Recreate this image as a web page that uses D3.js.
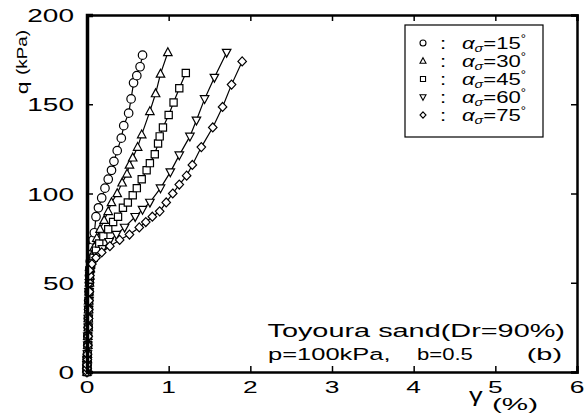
<!DOCTYPE html>
<html>
<head>
<meta charset="utf-8">
<script src="https://cdn.jsdelivr.net/npm/d3@7"></script>
<style>
  body { margin: 0; background: #fff; }
  svg { display: block; }
  text { font-family: "Liberation Sans", Arial, sans-serif; fill: #000; }
</style>
</head>
<body>
<svg id="chart"></svg>
<script>
// shear strain gamma (%) and deviator stress q (kPa)
const lowQ = [0, 2, 4, 7, 10, 15, 20, 25, 30, 35, 40, 45, 50, 54];

const g15 = [0, 0, 0, 0, 0.005, 0.01, 0.01, 0.015, 0.015, 0.02, 0.02, 0.025, 0.03, 0.03,
  0.035, 0.04, 0.05, 0.06, 0.075, 0.09, 0.11, 0.14, 0.18, 0.22, 0.26, 0.30, 0.33, 0.37, 0.42, 0.45, 0.51, 0.54, 0.57, 0.61, 0.65, 0.68];
const q15 = [...lowQ,
  58, 62, 66, 70, 74, 78, 87, 92, 97.5, 103, 108, 113, 118, 124, 131, 138, 145, 153, 162, 166, 171, 177.5];

const g30 = [0, 0, 0, 0.005, 0.005, 0.01, 0.01, 0.015, 0.015, 0.02, 0.02, 0.025, 0.03, 0.035,
  0.04, 0.05, 0.07, 0.09, 0.12, 0.16, 0.21, 0.26, 0.30, 0.37, 0.43, 0.49, 0.52, 0.56, 0.62, 0.67, 0.77, 0.84, 0.90, 0.99];
const q30 = [...lowQ,
  58, 62, 66, 70, 75, 80, 85, 90, 95, 100, 106, 111, 116, 120, 126, 133, 146, 156, 167, 179];

const g45 = [0, 0, 0, 0.005, 0.005, 0.01, 0.01, 0.015, 0.02, 0.02, 0.025, 0.025, 0.03, 0.035,
  0.05, 0.08, 0.11, 0.15, 0.20, 0.26, 0.32, 0.38, 0.44, 0.50, 0.56, 0.61, 0.67, 0.73, 0.77, 0.83, 0.87, 0.89, 0.93, 1.00, 1.06, 1.13, 1.21];
const q45 = [...lowQ,
  60, 64, 68, 72, 76, 80, 84, 87, 92, 95, 99, 103, 108, 113, 117, 122, 128, 132, 137, 144, 151, 159, 167.5];

const g60 = [0, 0, 0, 0, 0.005, 0.01, 0.01, 0.015, 0.015, 0.02, 0.025, 0.025, 0.03, 0.035,
  0.04, 0.07, 0.12, 0.19, 0.27, 0.36, 0.46, 0.59, 0.68, 0.77, 0.90, 1.02, 1.13, 1.26, 1.34, 1.44, 1.56, 1.71];
const q60 = [...lowQ,
  57, 61, 65, 69, 73, 77, 81, 87, 91, 95, 103, 112, 121.5, 132, 141, 153, 165, 179];

const g75 = [0, 0, 0, 0.005, 0.005, 0.01, 0.015, 0.015, 0.02, 0.02, 0.025, 0.03, 0.03, 0.035,
  0.03, 0.06, 0.11, 0.18, 0.28, 0.40, 0.52, 0.64, 0.72, 0.80, 0.89, 0.97, 1.05, 1.13, 1.22, 1.29, 1.40, 1.54, 1.66, 1.77, 1.90];
const q75 = [...lowQ,
  57, 60.5, 64, 67, 70.5, 74, 77, 81, 84, 87, 90, 95, 100, 105, 110, 116, 126, 137, 148.5, 161, 174];

const seriesNames = ["15", "30", "45", "60", "75"];
const seriesSymbols = ["circle", "triangle", "square", "triangleDown", "diamond"];
const xTicks = [0, 1, 2, 3, 4, 5, 6];
const yTicks = [0, 50, 100, 150, 200];

const width = 586, height = 416;
const margin = {top: 15, right: 9, bottom: 44, left: 87};
const stretch = 1.55; // the scanned figure's lettering is wide

const svg = d3.select("#chart").attr("width", width).attr("height", height);

const x = d3.scaleLinear().domain([0, 6]).range([margin.left, width - margin.right]);
const y = d3.scaleLinear().domain([0, 200]).range([height - margin.bottom, margin.top]);

const gammas = [g15, g30, g45, g60, g75];
const qs = [q15, q30, q45, q60, q75];
const data = seriesNames.map((name, i) => ({
  name: name,
  symbol: seriesSymbols[i],
  points: gammas[i].map((g, j) => [g, qs[i][j]])
}));

function wideText(parent, str, px, py, size, anchor, sx) {
  return parent.append("text")
    .attr("transform", `translate(${px},${py}) scale(${sx || stretch},1)`)
    .attr("text-anchor", anchor || "start")
    .style("font-size", size + "px")
    .text(str);
}

function markerPath(symbol, s) {
  const h = s / 2;
  if (symbol === "circle") return d3.symbol(d3.symbolCircle, Math.PI * h * h)();
  if (symbol === "square") return `M${-h * 0.85},${-h * 0.85}H${h * 0.85}V${h * 0.85}H${-h * 0.85}Z`;
  if (symbol === "triangle") return `M0,${-h * 1.1}L${h},${h * 0.75}L${-h},${h * 0.75}Z`;
  if (symbol === "triangleDown") return `M0,${h * 1.1}L${h},${-h * 0.75}L${-h},${-h * 0.75}Z`;
  return `M0,${-h * 1.05}L${h},0L0,${h * 1.05}L${-h},0Z`;
}

// data
const line = d3.line().x(d => x(d[0])).y(d => y(d[1]));
const plot = svg.append("g");
data.forEach(s => {
  plot.append("path")
    .attr("d", line(s.points))
    .attr("fill", "none")
    .attr("stroke", "#000")
    .attr("stroke-width", 1.2);
});
data.forEach(s => {
  plot.append("g").selectAll("path")
    .data(s.points)
    .join("path")
    .attr("transform", d => `translate(${x(d[0])},${y(d[1])})`)
    .attr("d", markerPath(s.symbol, 8.5))
    .attr("fill", "#fff")
    .attr("stroke", "#000")
    .attr("stroke-width", 1.2);
});

// axes: inward ticks on all four sides
const tickLen = 6;
svg.append("g")
  .attr("transform", `translate(0,${y(0)})`)
  .call(d3.axisBottom(x).tickValues(xTicks).tickSize(-tickLen).tickFormat(""))
  .call(g => g.select(".domain").attr("stroke-width", 2.5));
svg.append("g")
  .attr("transform", `translate(0,${y(200)})`)
  .call(d3.axisTop(x).tickValues(xTicks).tickSize(-tickLen).tickFormat(""))
  .call(g => g.select(".domain").attr("stroke-width", 2.5));
svg.append("g")
  .attr("transform", `translate(${x(0)},0)`)
  .call(d3.axisLeft(y).tickValues(yTicks).tickSize(-tickLen).tickFormat(""))
  .call(g => g.select(".domain").attr("stroke-width", 3.5));
svg.append("g")
  .attr("transform", `translate(${x(6)},0)`)
  .call(d3.axisRight(y).tickValues(yTicks).tickSize(-tickLen).tickFormat(""))
  .call(g => g.select(".domain").attr("stroke-width", 2.5));
svg.selectAll(".tick line").attr("stroke-width", 1.5);

const labels = svg.append("g");
xTicks.forEach(t => wideText(labels, String(t), x(t), y(0) + 21, 17, "middle"));
yTicks.forEach(t => wideText(labels, String(t), x(0) - 13, y(t) + 7, 17.5, "end", 1.6));

// axis titles
const yTitle = labels.append("text")
  .attr("transform", `translate(28,62) rotate(-90) scale(1.35,1)`)
  .attr("text-anchor", "middle")
  .style("font-size", "17px");
yTitle.append("tspan").text("q ");
yTitle.append("tspan").style("font-size", "14px").attr("dy", -1).text("(kPa)");

wideText(labels, "\u03b3", 469, 402, 21, "start", 1.3);
wideText(labels, "(%)", 492, 410, 16, "start", 1.85);

// annotation
wideText(labels, "Toyoura  sand(Dr=90%)", 565, 337, 17.5, "end", 1.65);
wideText(labels, "p=100kPa,", 268, 360, 17, "start", 1.5);
wideText(labels, "b=0.5", 417, 360, 17, "start", 1.3);
wideText(labels, "(b)", 562, 360, 17, "end", 1.7);

// legend
const legend = svg.append("g");
legend.append("rect")
  .attr("x", 405).attr("y", 25)
  .attr("width", 138).attr("height", 112)
  .attr("fill", "#fff")
  .attr("stroke", "#000")
  .attr("stroke-width", 1.2);
data.forEach((s, i) => {
  const ry = 43 + i * 18;
  legend.append("path")
    .attr("transform", `translate(423,${ry})`)
    .attr("d", markerPath(s.symbol, 6))
    .attr("fill", "#fff")
    .attr("stroke", "#000")
    .attr("stroke-width", 1.1);
  wideText(legend, ":", 440, ry + 6, 17, "start", 1.3);
  const t = legend.append("text")
    .attr("transform", `translate(462,${ry + 6}) scale(1.3,1)`)
    .style("font-size", "17px");
  t.append("tspan").style("font-style", "italic").text("\u03b1");
  t.append("tspan").style("font-size", "11px").style("font-style", "italic").attr("dy", 3).text("\u03c3");
  t.append("tspan").attr("dy", -3).text("=" + s.name);
  t.append("tspan").style("font-size", "10px").attr("dy", -7).text("\u00b0");
});
</script>
</body>
</html>
